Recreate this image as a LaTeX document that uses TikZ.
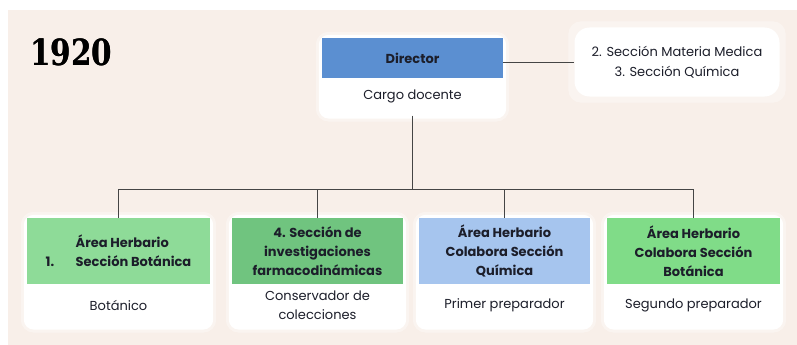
\documentclass[tikz,border=0pt]{standalone}
\usepackage{fontspec}
\setmainfont{Poppins}
\newfontfamily\yearfont{DejaVu Serif}
\usepackage{graphicx}
\usepackage[outline]{contour}
\contourlength{0.7pt}
\usetikzlibrary{positioning,fit,backgrounds}

\definecolor{paper}{HTML}{F8EFE9}
\definecolor{dirblue}{HTML}{5B8FD1}
\definecolor{lightblue}{HTML}{A6C5EE}
\definecolor{lightgreen}{HTML}{8EDB98}
\definecolor{midgreen}{HTML}{70C47F}
\definecolor{brightgreen}{HTML}{80DC88}
\definecolor{linegray}{HTML}{454545}
\definecolor{ink}{HTML}{1C1E2A}

\begin{document}
\begin{tikzpicture}
[x=1pt, y=-1pt, font=\fontsize{13}{19}\selectfont,
 head/.style={minimum height=66pt, inner sep=0pt, align=center, text=ink,
   font=\fontsize{13}{19}\selectfont\bfseries},
 role/.style={minimum height=42pt, inner sep=0pt, align=center, text=ink},
 panel/.style={fill=white, rounded corners=10pt, inner sep=3pt},
 glow/.style={fill=white, opacity=0.35, rounded corners=13pt, inner sep=6pt},
 conn/.style={draw=linegray, line width=0.9pt}]

\useasboundingbox (0,0) rectangle (797,345);

% Year:
\node[anchor=west, inner sep=0pt] (year) at (30,52)
  {\scalebox{0.82}[1]{\yearfont\bfseries\fontsize{36}{36}\selectfont\contour{black}{1920}}};

% Director:
\node[head, fill=dirblue, minimum width=181pt, minimum height=40pt] (dir) at (412.5,58) {Director};
\node[role, minimum width=181pt, minimum height=37pt, below=0pt of dir] (dirrol) {Cargo docente};

% Sections beside the director:
\node[panel, rounded corners=15pt, minimum width=205pt, minimum height=69pt, align=center,
  text=ink, font=\fontsize{13}{20}\selectfont] (secs) at (677,62)
  {2. Sección Materia Medica\\3. Sección Química};

% Areas:
\node[head, fill=lightgreen, minimum width=183pt, align=left] (b1) at (118.5,251)
  {\makebox[30pt][l]{}Área Herbario\\\makebox[30pt][l]{1.}Sección Botánica};
\node[head, fill=midgreen, minimum width=171pt] (b2) at (317.5,251)
  {4. Sección de\\investigaciones\\farmacodinámicas};
\node[head, fill=lightblue, minimum width=171pt] (b3) at (504.5,251)
  {Área Herbario\\Colabora Sección\\Química};
\node[head, fill=brightgreen, minimum width=173pt] (b4) at (693.5,251)
  {Área Herbario\\Colabora Sección\\Botánica};

% Posts:
\node[role, minimum width=183pt, below=0pt of b1] (r1) {Botánico};
\node[role, minimum width=171pt, below=0pt of b2] (r2) {Conservador de\\colecciones};
\node[role, minimum width=171pt, below=0pt of b3] (r3) {Primer preparador};
\node[role, minimum width=173pt, below=0pt of b4] (r4) {Segundo preparador};

% Connectors:
\coordinate (bus) at (0,189);
\draw[conn] (dir.east |- secs.west) -- (secs.west);
\draw[conn] (dirrol.south) -- (dirrol.south |- bus);
\draw[conn] (b1.north |- bus) -- (b4.north |- bus);
\foreach \n in {b1,b2,b3,b4}
  \draw[conn] (\n.north |- bus) -- (\n.north);

% Paper and white panels:
\begin{scope}[on background layer]
  \fill[white] (0,0) rectangle (797,10);
  \fill[paper] (8,10) rectangle (797,345);
  \node[glow, fit=(dir)(dirrol)] {};
  \node[panel, fit=(dir)(dirrol)] {};
  \node[glow, fit=(secs)] {};
  \foreach \n in {1,2,3,4} {
    \node[glow, fit=(b\n)(r\n)] {};
    \node[panel, fit=(b\n)(r\n)] {};
  }
\end{scope}

\end{tikzpicture}
\end{document}
